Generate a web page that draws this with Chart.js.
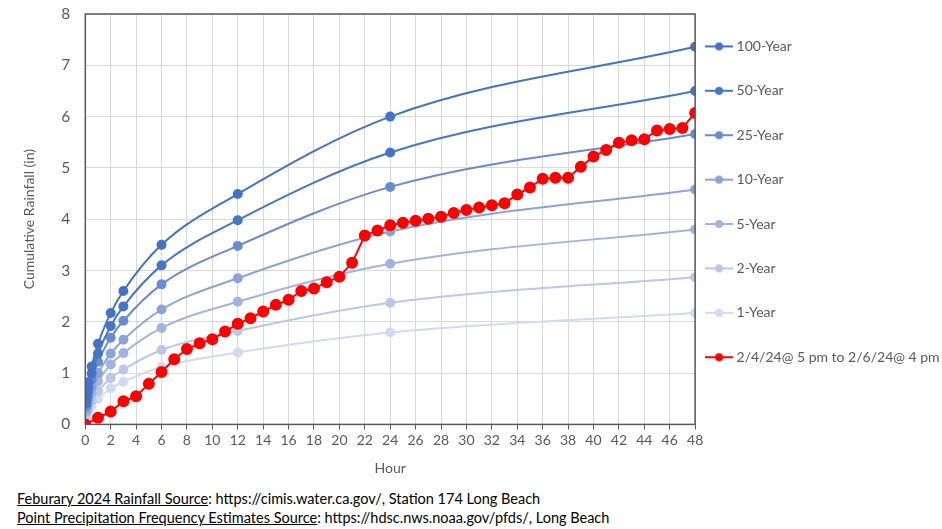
<!DOCTYPE html>
<html lang="en">
<head>
    <meta charset="UTF-8">
    <title>Cumulative Rainfall vs Frequency Estimates</title>
    <style>
        body {
            margin: 0;
            background: #fff;
            font-family: Lato, 'Liberation Sans', sans-serif;
        }
        .wrap {
            position: relative;
            width: 942px;
            height: 529px;
        }
        .chart-box {
            position: absolute;
            left: 0;
            top: 0;
            width: 942px;
            height: 484px;
        }
        .source {
            position: absolute;
            left: 17px;
            top: 489px;
            font-size: 14.5px;
            line-height: 19px;
            color: #000;
        }
    </style>
</head>
<body>
    <div class="wrap">
        <div class="chart-box">
            <canvas id="rain-chart"></canvas>
        </div>
        <div class="source">
            <div><u>Feburary 2024 Rainfall Source</u>: https://cimis.water.ca.gov/, Station 174 Long Beach</div>
            <div><u>Point Precipitation Frequency Estimates Source</u>: https://hdsc.nws.noaa.gov/pfds/, Long Beach</div>
        </div>
    </div>

    <script src="https://cdn.jsdelivr.net/npm/chart.js"></script>
    <script>
        // durations in hours (5, 10, 15, 30 min, 1, 2, 3, 6, 12, 24, 48 hr)
        const durations = [0.083, 0.167, 0.25, 0.5, 1, 2, 3, 6, 12, 24, 48];

        const yr100 = [0.47, 0.67, 0.82, 1.13, 1.57, 2.17, 2.60, 3.50, 4.49, 6.00, 7.36];
        const yr50  = [0.41, 0.58, 0.72, 0.99, 1.38, 1.92, 2.30, 3.10, 3.98, 5.30, 6.50];
        const yr25  = [0.36, 0.51, 0.63, 0.87, 1.22, 1.69, 2.02, 2.73, 3.48, 4.63, 5.66];
        const yr10  = [0.30, 0.42, 0.52, 0.72, 1.00, 1.38, 1.65, 2.24, 2.85, 3.76, 4.58];
        const yr5   = [0.25, 0.35, 0.44, 0.60, 0.84, 1.17, 1.39, 1.88, 2.39, 3.13, 3.80];
        const yr2   = [0.19, 0.27, 0.34, 0.46, 0.65, 0.90, 1.07, 1.45, 1.82, 2.37, 2.87];
        const yr1   = [0.15, 0.21, 0.26, 0.36, 0.50, 0.70, 0.83, 1.12, 1.40, 1.79, 2.17];

        // observed storm, hourly from 0 to 48
        const stormHours = [];
        for (let h = 0; h <= 48; h++) stormHours.push(h);
        const storm = [0, 0.13, 0.25, 0.45, 0.55, 0.79, 1.02, 1.27, 1.47, 1.58,
                       1.66, 1.81, 1.96, 2.07, 2.20, 2.33, 2.43, 2.60, 2.65, 2.77,
                       2.88, 3.15, 3.68, 3.78, 3.88, 3.93, 3.97, 4.01, 4.05, 4.12,
                       4.18, 4.23, 4.27, 4.31, 4.48, 4.62, 4.79, 4.81, 4.81, 5.02,
                       5.22, 5.35, 5.49, 5.54, 5.56, 5.73, 5.76, 5.78, 6.07];

        const seriesNames = ['100-Year', '50-Year', '25-Year', '10-Year', '5-Year', '2-Year', '1-Year'];
        const seriesData = [yr100, yr50, yr25, yr10, yr5, yr2, yr1];
        const seriesColors = ['#4472C4', '#4775C6', '#6A8BCE', '#8BA3D7', '#A2B4DD', '#BAC7E6', '#D1DAEE'];
        const stormName = '2/4/24@ 5 pm to 2/6/24@ 4 pm';
        const stormColor = '#FF0000';

        const textGray = '#595959';

        function toPoints(xs, ys) {
            return xs.map((x, i) => ({ x: x, y: ys[i] }));
        }

        // legend icon: short line with a dot
        function legendIcon(color) {
            const c = document.createElement('canvas');
            c.width = 28;
            c.height = 10;
            const g = c.getContext('2d');
            g.strokeStyle = color;
            g.lineWidth = 2;
            g.beginPath();
            g.moveTo(0, 5);
            g.lineTo(28, 5);
            g.stroke();
            g.fillStyle = color;
            g.beginPath();
            g.arc(14, 5, 4, 0, Math.PI * 2);
            g.fill();
            return c;
        }

        const datasets = seriesNames.map((name, i) => ({
            label: name,
            data: toPoints(durations, seriesData[i]),
            borderColor: seriesColors[i],
            backgroundColor: seriesColors[i],
            borderWidth: 2,
            pointRadius: 4,
            pointHoverRadius: 4,
            cubicInterpolationMode: 'monotone',
            order: i + 1
        }));
        datasets.push({
            label: stormName,
            data: toPoints(stormHours, storm),
            borderColor: stormColor,
            backgroundColor: stormColor,
            borderWidth: 2,
            pointRadius: 5,
            pointHoverRadius: 5,
            tension: 0,
            order: 0
        });

        const plotFrame = {
            id: 'plotFrame',
            afterLayout(chart) {
                // pull legend closer to the plot, let it run to the canvas edge
                const lg = chart.legend;
                lg.left -= 17;
                lg.right = chart.width;
                lg.top = 9;
            },
            afterDraw(chart) {
                const a = chart.chartArea;
                const ctx = chart.ctx;
                ctx.save();
                ctx.strokeStyle = '#595959';
                ctx.lineWidth = 1.5;
                ctx.strokeRect(a.left, a.top, a.right - a.left, a.bottom - a.top);
                ctx.restore();
            }
        };

        const ctx = document.getElementById('rain-chart').getContext('2d');
        new Chart(ctx, {
            type: 'line',
            data: { datasets: datasets },
            options: {
                responsive: true,
                maintainAspectRatio: false,
                animation: false,
                layout: { padding: { top: 14, left: 17.5, right: 21, bottom: 4 } },
                plugins: {
                    tooltip: { enabled: false },
                    legend: {
                        position: 'right',
                        align: 'start',
                        labels: {
                            usePointStyle: true,
                            pointStyleWidth: 21,
                            padding: 30.4,
                            color: textGray,
                            font: { family: 'Lato', size: 14 },
                            generateLabels(chart) {
                                return chart.data.datasets.map((ds, i) => ({
                                    text: ds.label,
                                    fillStyle: ds.borderColor,
                                    strokeStyle: ds.borderColor,
                                    lineWidth: 0,
                                    pointStyle: legendIcon(ds.borderColor),
                                    fontColor: textGray,
                                    hidden: false,
                                    datasetIndex: i
                                }));
                            }
                        }
                    }
                },
                scales: {
                    x: {
                        type: 'linear',
                        min: 0,
                        max: 48,
                        ticks: { stepSize: 2, padding: 3, color: textGray, font: { family: 'Lato', size: 14 } },
                        grid: { color: '#D9D9D9', tickLength: 5, tickColor: '#595959' },
                        border: { display: false },
                        title: {
                            display: true, text: 'Hour', color: textGray,
                            padding: { top: 8, bottom: 3 },
                            font: { family: 'Lato', size: 14 }
                        }
                    },
                    y: {
                        min: 0,
                        max: 8,
                        ticks: { stepSize: 1, padding: 3, color: textGray, font: { family: 'Lato', size: 15.5 } },
                        grid: { color: '#D9D9D9', tickLength: 12, tickColor: 'rgba(0,0,0,0)' },
                        border: { display: false },
                        title: {
                            display: true, text: 'Cumulative Rainfall (in)', color: textGray,
                            padding: { top: 4, bottom: 20 },
                            font: { family: 'Lato', size: 14 }
                        }
                    }
                }
            },
            plugins: [plotFrame]
        });
    </script>
</body>
</html>
